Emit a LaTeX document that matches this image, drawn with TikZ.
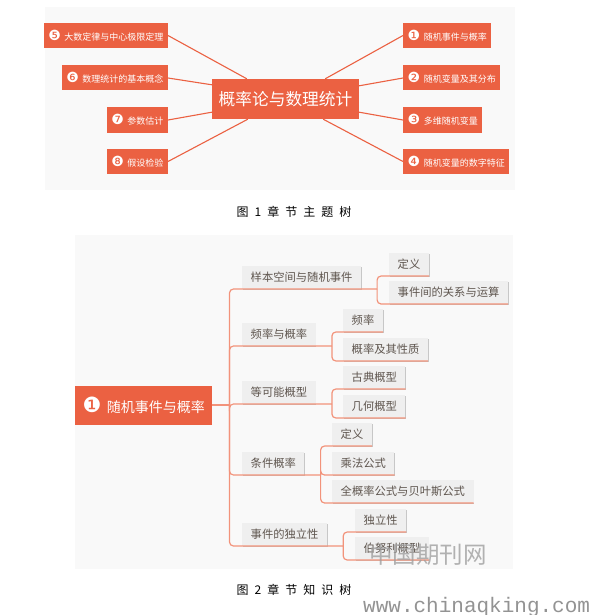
\documentclass[tikz,border=0pt]{standalone}
\usepackage{fontspec}
\setmainfont{Noto Sans CJK SC}
\newfontfamily\symfont{DejaVu Sans}
\newfontfamily\webfont{Liberation Mono}
\newfontfamily\capfont{Noto Sans CJK SC}[LetterSpace=50]
\usetikzlibrary{positioning,shadows}
\definecolor{hot}{HTML}{EB6142}
\definecolor{pale}{HTML}{F9F9F9}
\definecolor{chip}{HTML}{EFEFEF}
\definecolor{ink2}{HTML}{5E554E}
\definecolor{wire}{HTML}{F2937B}
\newcommand{\numdot}[2][14]{{\symfont\fontsize{#1}{#1}\selectfont #2\hspace{0.25em}}}

\begin{document}
\begin{tikzpicture}[x=1pt, y=-1pt,
  topic/.style={fill=hot, text=white, font=\fontsize{9}{9}\selectfont, minimum height=25pt, inner xsep=4.5pt, inner ysep=0pt},
  hub/.style={topic, font=\fontsize{16.7}{17}\selectfont, minimum height=40pt, minimum width=147pt, inner xsep=6.5pt},
  rootbox/.style={topic, font=\fontsize{14}{14}\selectfont, minimum height=39pt, inner xsep=7.5pt},
  spoke/.style={hot, line width=1.1pt},
  chipbox/.style={fill=chip, text=ink2, font=\fontsize{11.3}{12}\selectfont, minimum height=22.5pt, inner xsep=8.5pt, inner ysep=0pt,
    drop shadow={shadow xshift=0.7pt, shadow yshift=-0.7pt, opacity=0.2, fill=black}},
  link/.style={wire, line width=1.2pt, rounded corners=4pt},
  caption/.style={font=\capfont\fontsize{12}{12}\selectfont, text=black}]
\useasboundingbox (0,0) rectangle (594,615);
\fill[white] (0,0) rectangle (594,615);
\fill[pale] (45,7) rectangle (515,190);
\fill[pale] (75,235) rectangle (513,569);

\node[hub] (core) at (285.5,99) {概率论与数理统计};
\node[topic, anchor=east] (t5) at (168,35.5) {\numdot{❺}大数定律与中心极限定理};
\node[topic, anchor=east] (t6) at (168,78) {\numdot{❻}数理统计的基本概念};
\node[topic, anchor=east] (t7) at (168,120) {\numdot{❼}参数估计};
\node[topic, anchor=east] (t8) at (168,161.5) {\numdot{❽}假设检验};
\node[topic, anchor=west] (t1) at (403,35.5) {\numdot{❶}随机事件与概率};
\node[topic, anchor=west] (t2) at (403,78) {\numdot{❷}随机变量及其分布};
\node[topic, anchor=west] (t3) at (403,120) {\numdot{❸}多维随机变量};
\node[topic, anchor=west] (t4) at (403,161.5) {\numdot{❹}随机变量的数字特征};
\draw[spoke] ([xshift=35pt]core.north west) -- (t5.east);
\draw[spoke] ([yshift=-6pt]core.north west) -- (t6.east);
\draw[spoke] ([yshift=7pt]core.south west) -- (t7.east);
\draw[spoke] ([xshift=36pt]core.south west) -- (t8.east);
\draw[spoke] ([xshift=-34pt]core.north east) -- (t1.west);
\draw[spoke] ([yshift=-7pt]core.north east) -- (t2.west);
\draw[spoke] ([yshift=7pt]core.south east) -- (t3.west);
\draw[spoke] ([xshift=-36pt]core.south east) -- (t4.west);
\node[caption] (cap1) at (294,212) {图1章节主题树};

\node[rootbox, anchor=west] (root) at (75,405) {\numdot[21]{❶}随机事件与概率};
\node[chipbox, anchor=south west] (k1) at (242,289) {样本空间与随机事件};
\node[chipbox, anchor=south west] (k2) at (242,346) {频率与概率};
\node[chipbox, anchor=south west] (k3) at (242,404) {等可能概型};
\node[chipbox, anchor=south west] (k4) at (242,475) {条件概率};
\node[chipbox, anchor=south west] (k5) at (242,546) {事件的独立性};
\node[chipbox, anchor=south west] (k1a) at (389,276) {定义};
\node[chipbox, anchor=south west] (k1b) at (389,304) {事件间的关系与运算};
\node[chipbox, anchor=south west] (k2a) at (343,332) {频率};
\node[chipbox, anchor=south west] (k2b) at (343,361) {概率及其性质};
\node[chipbox, anchor=south west] (k3a) at (343,389) {古典概型};
\node[chipbox, anchor=south west] (k3b) at (343,418) {几何概型};
\node[chipbox, anchor=south west] (k4a) at (332,446) {定义};
\node[chipbox, anchor=south west] (k4b) at (332,475) {乘法公式};
\node[chipbox, anchor=south west] (k4c) at (332,503) {全概率公式与贝叶斯公式};
\node[chipbox, anchor=south west] (k5a) at (355,532) {独立性};
\node[chipbox, anchor=south west] (k5b) at (355,560) {伯努利概型};
\coordinate (trunk) at ([xshift=17pt]root.east);
\draw[link] (root.east) -- (trunk);
\foreach \k in {k1,k2,k3,k4,k5}
  \draw[link] (trunk) |- (\k.south west) -- (\k.south east) -- ++(16,0);
\foreach \p/\c in {k1/k1a,k1/k1b,k2/k2a,k2/k2b,k3/k3a,k3/k3b,k4/k4a,k4/k4b,k4/k4c,k5/k5a,k5/k5b}
  \draw[link] ([xshift=16pt]\p.south east) |- (\c.south west) -- (\c.south east);
\node[caption] (cap2) at (294,590) {图2章节知识树};

\node[font=\fontsize{23.5}{24}\selectfont, text=gray!75, opacity=0.8] (mark) at (428,555) {中国期刊网};
\node[font=\webfont\fontsize{21}{21}\selectfont, text=gray!85, anchor=base west, inner sep=0pt] (site) at (363,612) {www.chinaqking.com};
\end{tikzpicture}
\end{document}
